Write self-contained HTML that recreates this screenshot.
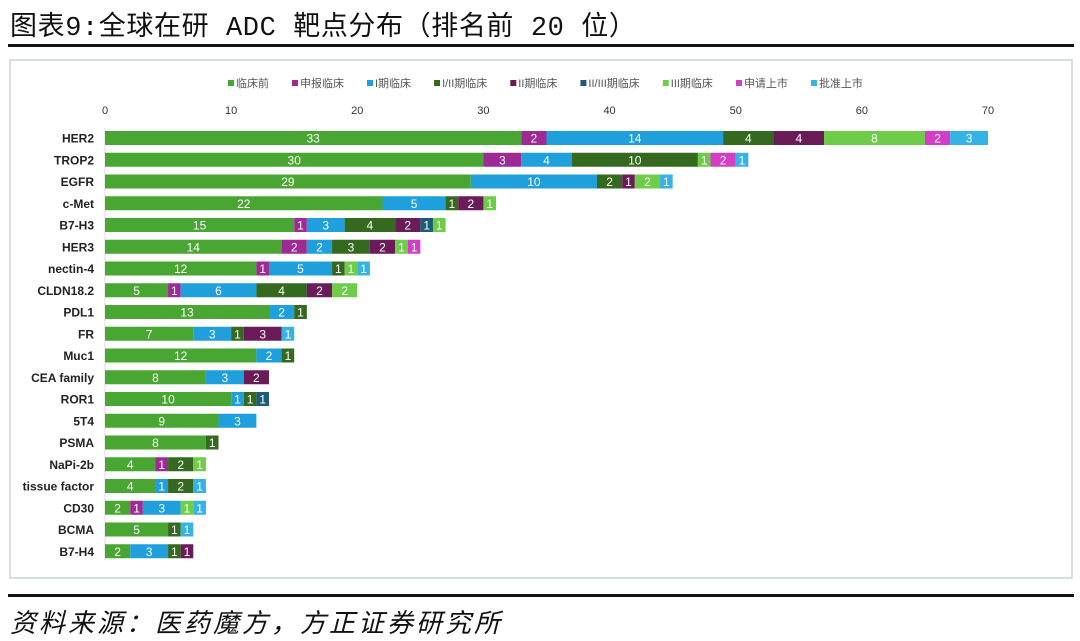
<!DOCTYPE html>
<html><head><meta charset="utf-8"><style>
body{margin:0;background:#fff;width:1080px;height:641px;overflow:hidden;font-family:"Liberation Sans","Noto Sans CJK SC",sans-serif}
</style></head><body>
<div style="position:absolute;left:10px;top:4px;font-size:27px;color:#111;font-family:'Liberation Mono','Noto Sans CJK SC',monospace;letter-spacing:0.6px">图表9:全球在研 ADC 靶点分布（排名前 20 位）</div>
<div style="position:absolute;left:8px;top:44px;width:1066px;height:3px;background:#111"></div>
<div style="position:absolute;left:8px;top:594px;width:1066px;height:3px;background:#111"></div>
<div style="position:absolute;left:10px;top:603px;font-size:26px;font-style:italic;color:#111;letter-spacing:3px">资料来源：医药魔方，方正证券研究所</div>
<svg id="chart" width="1080" height="641" style="position:absolute;left:0;top:0">
<rect x="10" y="60" width="1062" height="518" fill="#fff" stroke="#c8d4e0" stroke-width="1.5"/>
</svg>
<script>
const categories=["HER2","TROP2","EGFR","c-Met","B7-H3","HER3","nectin-4","CLDN18.2","PDL1","FR","Muc1","CEA family","ROR1","5T4","PSMA","NaPi-2b","tissue factor","CD30","BCMA","B7-H4"];
const seriesNames=["临床前","申报临床","I期临床","I/II期临床","II期临床","II/III期临床","III期临床","申请上市","批准上市"];
const preclinical=[33,30,29,22,15,14,12,5,13,7,12,8,10,9,8,4,4,2,5,2];
const ind=[2,3,0,0,1,2,1,1,0,0,0,0,0,0,0,1,0,1,0,0];
const phase1=[14,4,10,5,3,2,5,6,2,3,2,3,1,3,0,0,1,3,0,3];
const phase12=[4,10,2,1,4,3,1,4,1,1,1,0,1,0,1,2,2,0,1,1];
const phase2=[4,0,1,2,2,2,0,2,0,3,0,2,0,0,0,0,0,0,0,1];
const phase23=[0,0,0,0,1,0,0,0,0,0,0,0,1,0,0,0,0,0,0,0];
const phase3=[8,1,2,1,1,1,1,2,0,0,0,0,0,0,0,1,0,1,0,0];
const nda=[2,2,0,0,0,1,0,0,0,0,0,0,0,0,0,0,0,0,0,0];
const approved=[3,1,1,0,0,0,1,0,0,1,0,0,0,0,0,0,1,1,1,0];
const xTicks=[0,10,20,30,40,50,60,70];
const colors=["#4aa632","#9e2a94","#1fa0dc","#35691f","#6a1c58","#1d5c78","#6fcc48","#d23fc5","#35b3e6"];
const series=[preclinical,ind,phase1,phase12,phase2,phase23,phase3,nda,approved];
const svg=document.getElementById('chart');
const NS="http://www.w3.org/2000/svg";
const x0=105,x1=988,xmax=70;
const xs=v=>x0+v/xmax*(x1-x0);
const yTop=138,yStep=21.75,bh=14;
const ys=i=>yTop+i*yStep;
function mk(t,a){const e=document.createElementNS(NS,t);for(const k in a)e.setAttribute(k,a[k]);svg.appendChild(e);return e;}
let lx=228;
seriesNames.forEach((n,k)=>{
  const r=mk('rect',{x:lx,y:80,width:6,height:6,fill:colors[k]});
  
  
  const t=mk('text',{x:lx+8,y:87,'font-size':11,fill:'#555'});t.textContent=n;
  
  
  lx+=8+t.getComputedTextLength()+23;
});
xTicks.forEach(v=>{
  const t=mk('text',{x:xs(v),y:114,'font-size':11,fill:'#333','text-anchor':'middle'});t.textContent=v;
  
  
});
mk('line',{x1:x0,x2:x0,y1:128,y2:560,stroke:'#ddd'});
categories.forEach((c,i)=>{
  const y=ys(i);
  const t=mk('text',{x:94,y:y+4.5,'font-size':12,'font-weight':'bold',fill:'#222','text-anchor':'end'});t.textContent=c;
  
  
  let acc=0;
  series.forEach((s,k)=>{
    const v=s[i];if(!v)return;
    const r=mk('rect',{x:xs(acc),y:y-bh/2,width:xs(acc+v)-xs(acc),height:bh,fill:colors[k]});
    
    
    const l=mk('text',{x:(xs(acc)+xs(acc+v))/2,y:y+4.5,'font-size':12,fill:'#fff','text-anchor':'middle'});l.textContent=v;
    
    
    acc+=v;
  });
});
</script>
</body></html>
